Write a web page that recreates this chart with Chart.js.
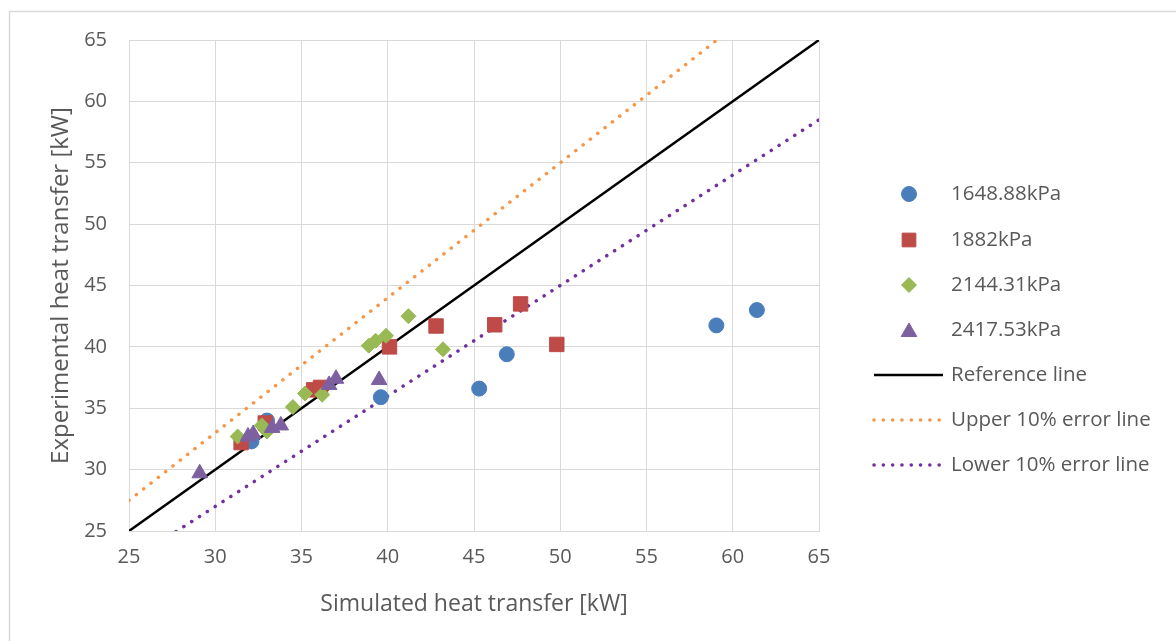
<!DOCTYPE html>
<html>
<head>
<meta charset="utf-8">
<script src="https://cdn.jsdelivr.net/npm/chart.js@4"></script>
<style>
  html, body { margin: 0; padding: 0; background: #fff; }
  #wrap { width: 1176px; height: 641px; position: relative; }
</style>
</head>
<body>
<div id="wrap"><canvas id="chart" width="1176" height="641"></canvas></div>
<script>
// Series data
const seriesNames = ["1648.88kPa", "1882kPa", "2144.31kPa", "2417.53kPa"]

const x1648 = [32.1, 33.0, 39.6, 45.3, 46.9, 59.05, 61.4]
const y1648 = [32.3, 34.0, 35.9, 36.6, 39.4, 41.75, 43.0]

const x1882 = [31.5, 32.9, 35.7, 36.1, 40.1, 42.8, 46.2, 47.7, 49.8]
const y1882 = [32.2, 33.8, 36.5, 36.7, 40.0, 41.7, 41.8, 43.5, 40.2]

const x2144 = [31.3, 32.7, 33.0, 34.5, 35.2, 36.2, 38.9, 39.3, 39.9, 41.2, 43.2]
const y2144 = [32.7, 33.6, 33.1, 35.1, 36.2, 36.1, 40.1, 40.5, 40.9, 42.5, 39.8]

const x2417 = [29.1, 31.9, 32.2, 33.3, 33.8, 36.6, 37.0, 39.5]
const y2417 = [29.7, 32.7, 32.9, 33.4, 33.6, 36.9, 37.4, 37.3]

// Reference and +/-10% error lines (end points)
const lineX = [25, 65]
const refLine = [25, 65]
const upperLine = [27.5, 71.5]
const lowerLine = [22.5, 58.5]

const axisTicks = [25, 30, 35, 40, 45, 50, 55, 60, 65]

const textColor = "#595959"
const gridColor = "#d9d9d9"
const fontFamily = "'Open Sans', Lato, sans-serif"

function toPoints(xs, ys) {
  return xs.map((x, i) => ({ x: x, y: ys[i] }))
}

const datasets = [
  {
    label: seriesNames[0],
    data: toPoints(x1648, y1648),
    pointStyle: "circle",
    pointRadius: 7.5,
    backgroundColor: "#4a7ebb",
    borderColor: "#4a7ebb",
    borderWidth: 1,
    order: 4,
  },
  {
    label: seriesNames[1],
    data: toPoints(x1882, y1882),
    pointStyle: "rect",
    pointRadius: 10.2,
    backgroundColor: "#be4b48",
    borderColor: "#be4b48",
    borderWidth: 1,
    order: 3,
  },
  {
    label: seriesNames[2],
    data: toPoints(x2144, y2144),
    pointStyle: "rectRot",
    pointRadius: 7.5,
    backgroundColor: "#98b954",
    borderColor: "#98b954",
    borderWidth: 1,
    order: 2,
  },
  {
    label: seriesNames[3],
    data: toPoints(x2417, y2417),
    pointStyle: "triangle",
    pointRadius: 9,
    backgroundColor: "#7d60a0",
    borderColor: "#7d60a0",
    borderWidth: 1,
    order: 1,
  },
  {
    label: "Reference line",
    data: toPoints(lineX, refLine),
    showLine: true,
    pointRadius: 0,
    borderColor: "#000000",
    borderWidth: 2.5,
    order: 10,
  },
  {
    label: "Upper 10% error line",
    data: toPoints(lineX, upperLine),
    showLine: true,
    pointRadius: 0,
    borderColor: "#f79646",
    borderWidth: 3.5,
    borderDash: [0.1, 9.2],
    borderCapStyle: "round",
    order: 11,
  },
  {
    label: "Lower 10% error line",
    data: toPoints(lineX, lowerLine),
    showLine: true,
    pointRadius: 0,
    borderColor: "#7030a0",
    borderWidth: 3.5,
    borderDash: [0.1, 9.2],
    borderCapStyle: "round",
    order: 12,
  },
]

// White background and the outer frame
const framePlugin = {
  id: "frame",
  beforeDraw(chart) {
    const ctx = chart.ctx
    ctx.save()
    ctx.fillStyle = "#ffffff"
    ctx.fillRect(0, 0, chart.width, chart.height)
    ctx.strokeStyle = gridColor
    ctx.lineWidth = 1.5
    ctx.strokeRect(9.5, 11.5, chart.width + 20, chart.height + 20)
    ctx.restore()
  },
}

// Legend drawn by hand so markers and line samples get their own widths
const legendPlugin = {
  id: "sideLegend",
  afterDraw(chart) {
    const ctx = chart.ctx
    const rowY = [194, 240, 285, 330, 375, 420, 465]
    const markerX = 909
    const textX = 951
    ctx.save()
    chart.data.datasets.forEach((ds, i) => {
      const y = rowY[i]
      if (ds.showLine) {
        ctx.beginPath()
        ctx.strokeStyle = ds.borderColor
        ctx.lineWidth = ds.borderWidth
        ctx.lineCap = ds.borderCapStyle || "butt"
        ctx.setLineDash(ds.borderDash || [])
        ctx.moveTo(874, y)
        ctx.lineTo(943, y)
        ctx.stroke()
        ctx.setLineDash([])
      } else {
        ctx.fillStyle = ds.backgroundColor
        ctx.strokeStyle = ds.borderColor
        ctx.lineWidth = ds.borderWidth
        const r = ds.pointStyle === "rect" ? ds.pointRadius * 0.95 : ds.pointRadius
        Chart.helpers.drawPoint(ctx, { pointStyle: ds.pointStyle, radius: r, rotation: 0, borderWidth: 1 }, markerX, y + (ds.pointStyle === "triangle" ? 2 : 0))
      }
      ctx.fillStyle = textColor
      ctx.font = "20.5px " + fontFamily
      ctx.textBaseline = "middle"
      ctx.textAlign = "left"
      ctx.fillText(ds.label, textX, y)
    })
    ctx.restore()
  },
}

new Chart(document.getElementById("chart"), {
  type: "scatter",
  data: { datasets: datasets },
  plugins: [framePlugin, legendPlugin],
  options: {
    responsive: false,
    animation: false,
    layout: { padding: { top: 40, right: 357, left: 0, bottom: 0 } },
    plugins: {
      legend: { display: false },
      tooltip: { enabled: false },
    },
    scales: {
      x: {
        type: "linear",
        min: 25,
        max: 65,
        afterBuildTicks: (scale) => {
          scale.ticks = axisTicks.map((v) => ({ value: v }))
        },
        afterFit: (scale) => {
          scale.height = 110
        },
        grid: { color: gridColor, lineWidth: 1, drawTicks: false },
        border: { color: gridColor, width: 1 },
        ticks: { color: textColor, font: { family: fontFamily, size: 20 }, padding: 14 },
        title: {
          display: true,
          text: "Simulated heat transfer [kW]",
          color: textColor,
          font: { family: fontFamily, size: 23 },
          padding: { top: 0, bottom: 23 },
        },
      },
      y: {
        type: "linear",
        min: 25,
        max: 65,
        afterBuildTicks: (scale) => {
          scale.ticks = axisTicks.map((v) => ({ value: v }))
        },
        afterFit: (scale) => {
          scale.width = 129
        },
        grid: { color: gridColor, lineWidth: 1, drawTicks: false },
        border: { color: gridColor, width: 1 },
        ticks: { color: textColor, font: { family: fontFamily, size: 20 }, padding: 22 },
        title: {
          display: true,
          text: "Experimental heat transfer [kW]",
          color: textColor,
          font: { family: fontFamily, size: 24 },
          padding: { top: 47, bottom: 0 },
        },
      },
    },
  },
})
</script>
</body>
</html>
